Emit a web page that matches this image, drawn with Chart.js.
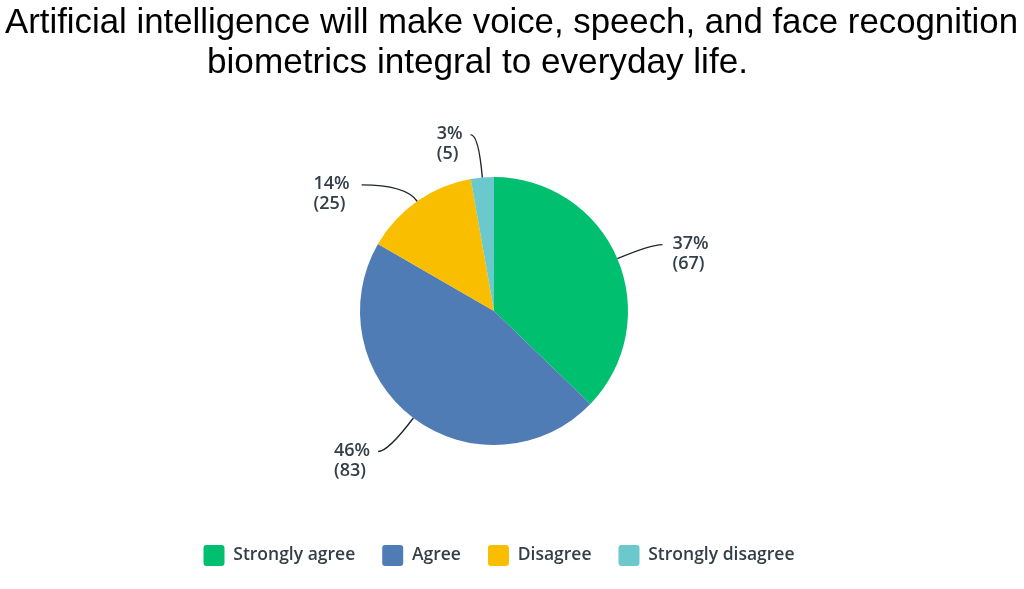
<!DOCTYPE html>
<html>
<head>
<meta charset="utf-8">
<script src="https://cdn.jsdelivr.net/npm/chart.js@4.4.0/dist/chart.umd.min.js"></script>
<style>
  html, body { margin: 0; padding: 0; background: #fff; }
  #wrap { width: 1024px; height: 589px; position: relative; }
</style>
</head>
<body>
<div id="wrap"><canvas id="chart-pie"></canvas></div>
<script>
const TITLE_LINES = ['Artificial intelligence will make voice, speech, and face recognition', 'biometrics integral to everyday life.'];
const CATEGORIES = ['Strongly agree', 'Agree', 'Disagree', 'Strongly disagree'];
const COUNTS = [67, 83, 25, 5];
const PERCENTS = [37, 46, 14, 3];
const COLORS = ['#00bf6f', '#507cb6', '#f9be00', '#6bc8cd'];

const TEXT = '#333e48';
const LABEL_FONT = '600 18px "Open Sans", sans-serif';

// where each title line sits (it's squeezed a bit in the original)
const titleBoxes = [
    {left: 5, right: 1018, base: 33},
    {left: 207, right: 748, base: 73}
];

// leader lines: how far out the bend is, horizontal run, gap before text
const leaders = [
    {ext: 36, run: 12, gap: 10},
    {ext: 42, run: 10, gap: 8},
    {ext: 20, run: 44, gap: 12},
    {ext: 43, run: 8, gap: 8}
];

const titlePlugin = {
    id: 'bigTitle',
    afterDraw(chart) {
        const ctx = chart.ctx;
        ctx.save();
        ctx.fillStyle = '#000';
        ctx.font = '35px "Liberation Sans", Arial, sans-serif';
        ctx.textBaseline = 'alphabetic';
        ctx.textAlign = 'left';
        TITLE_LINES.forEach((line, i) => {
            const box = titleBoxes[i];
            const w = ctx.measureText(line).width;
            const sx = (box.right - box.left) / w;
            ctx.save();
            ctx.translate(box.left, box.base);
            ctx.scale(sx, 1);
            ctx.fillText(line, 0, 0);
            ctx.restore();
        });
        ctx.restore();
    }
};

const pieLabels = {
    id: 'pieLabels',
    afterDatasetsDraw(chart) {
        const ctx = chart.ctx;
        const meta = chart.getDatasetMeta(0);
        ctx.save();
        ctx.font = LABEL_FONT;
        ctx.fillStyle = TEXT;
        ctx.strokeStyle = '#1f262d';
        ctx.lineWidth = 1.4;
        ctx.textBaseline = 'middle';
        ctx.textAlign = 'left';
        meta.data.forEach((arc, i) => {
            const p = arc.getProps(['x', 'y', 'startAngle', 'endAngle', 'outerRadius'], true);
            const mid = (p.startAngle + p.endAngle) / 2;
            const cos = Math.cos(mid), sin = Math.sin(mid);
            const L = leaders[i];
            const r2 = p.outerRadius + L.ext;
            const sx = p.x + cos * p.outerRadius, sy = p.y + sin * p.outerRadius;
            const cx = p.x + cos * r2, cy = p.y + sin * r2;
            const side = cos >= 0 ? 1 : -1;
            const ex = cx + side * L.run, ey = cy;
            ctx.beginPath();
            ctx.moveTo(sx, sy);
            ctx.quadraticCurveTo(cx, cy, ex, ey);
            ctx.stroke();

            const lines = [PERCENTS[i] + '%', '(' + COUNTS[i] + ')'];
            const w = Math.max(...lines.map(t => ctx.measureText(t).width));
            const left = side > 0 ? ex + L.gap : ex - L.gap - w;
            ctx.fillText(lines[0], left, ey - 1);
            ctx.fillText(lines[1], left, ey + 19);
        });
        ctx.restore();
    }
};

// nudge legend a touch right of the pie centre, like the original
const legendShift = {
    id: 'legendShift',
    afterLayout(chart) {
        chart.legend.left += 5;
        chart.legend.right += 5;
    }
};

const ctxPie = document.getElementById('chart-pie');
new Chart(ctxPie, {
    type: 'pie',
    data: {
        labels: CATEGORIES,
        datasets: [{
            data: COUNTS,
            backgroundColor: COLORS,
            borderWidth: 0,
            radius: 134
        }]
    },
    options: {
        responsive: true,
        maintainAspectRatio: false,
        animation: false,
        layout: { padding: { top: 104, bottom: 13, left: 0, right: 36 } },
        plugins: {
            tooltip: { enabled: false },
            legend: {
                position: 'bottom',
                labels: {
                    boxWidth: 21,
                    boxHeight: 21,
                    useBorderRadius: true,
                    borderRadius: 3,
                    padding: 27,
                    color: TEXT,
                    font: { family: '"Open Sans", sans-serif', size: 17.5, weight: '600' }
                }
            }
        }
    },
    plugins: [titlePlugin, pieLabels, legendShift]
});
</script>
</body>
</html>
